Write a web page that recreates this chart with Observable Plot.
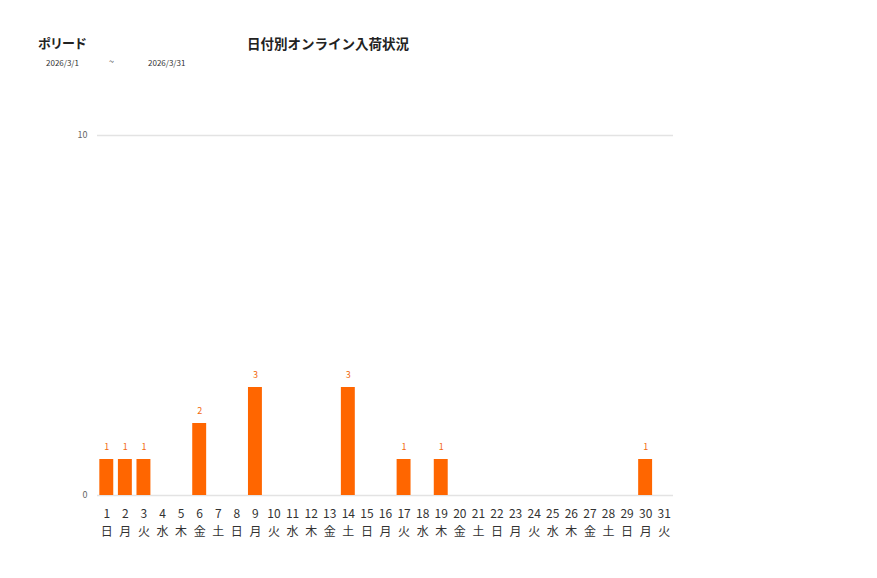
<!DOCTYPE html>
<html>
<head>
<meta charset="utf-8">
<script src="https://cdn.jsdelivr.net/npm/d3@7"></script>
<script src="https://cdn.jsdelivr.net/npm/@observablehq/plot@0.6"></script>
<style>
  body { margin: 0; background: #fff; font-family: "Noto Sans CJK JP", "Noto Sans", sans-serif; }
  #wrap { position: relative; width: 877px; height: 578px; }
  #chart { position: absolute; left: 0; top: 0; }
  .t { position: absolute; white-space: nowrap; color: #222; }
</style>
</head>
<body>
<div id="wrap">
  <div id="chart"></div>
  <div class="t" style="left:38px; top:33px; font-size:13px; letter-spacing:-1px; font-weight:bold;">ポリード</div>
  <div class="t" style="left:247px; top:33px; font-size:13.5px; font-weight:bold;">日付別オンライン入荷状況</div>
  <div class="t" style="left:46px; top:57px; font-size:8px; color:#333;">2026/3/1</div>
  <div class="t" style="left:109px; top:55px; font-size:9px; color:#333;">~</div>
  <div class="t" style="left:148px; top:57px; font-size:8px; color:#333;">2026/3/31</div>
</div>
<script>
const days = d3.range(1, 32);
const weekdays = ["日","月","火","水","木","金","土","日","月","火","水","木","金","土","日","月","火","水","木","金","土","日","月","火","水","木","金","土","日","月","火"];
const counts = [1,1,1,0,0,2,0,0,3,0,0,0,0,3,0,0,1,0,1,0,0,0,0,0,0,0,0,0,0,1,0];
const yTicks = [0, 10];

const data = days.map((d, i) => ({day: d, wd: weekdays[i], n: counts[i]}));
const labelOf = new Map(data.map(d => [d.day, d.day + "\n" + d.wd]));

const chart = Plot.plot({
  width: 877,
  height: 578,
  marginTop: 135,
  marginBottom: 83,
  marginLeft: 97,
  marginRight: 204,
  style: {fontFamily: '"Noto Sans CJK JP", "Noto Sans", sans-serif', background: "#fff"},
  x: {type: "band", domain: days, paddingInner: 0.25, paddingOuter: 0.125, round: false},
  y: {domain: [0, 10]},
  marks: [
    Plot.ruleY(yTicks, {stroke: "#e3e3e3", strokeWidth: 1.5}),
    Plot.barY(data, {x: "day", y: "n", fill: "#ff6600"}),
    Plot.text(data.filter(d => d.n > 0), {x: "day", y: "n", text: d => String(d.n), dy: -12, fill: "#f26a0f", fontSize: 9}),
    Plot.axisY({ticks: yTicks, tickSize: 0, tickPadding: 10, fontSize: 9, fill: "#666", label: null}),
    Plot.axisX({tickSize: 0, tickPadding: 10, fontSize: 12, lineHeight: 1.5, fill: "#333", label: null,
      tickFormat: d => labelOf.get(d), textAnchor: "middle", lineAnchor: "top"})
  ]
});
document.getElementById("chart").appendChild(chart);
</script>
</body>
</html>
